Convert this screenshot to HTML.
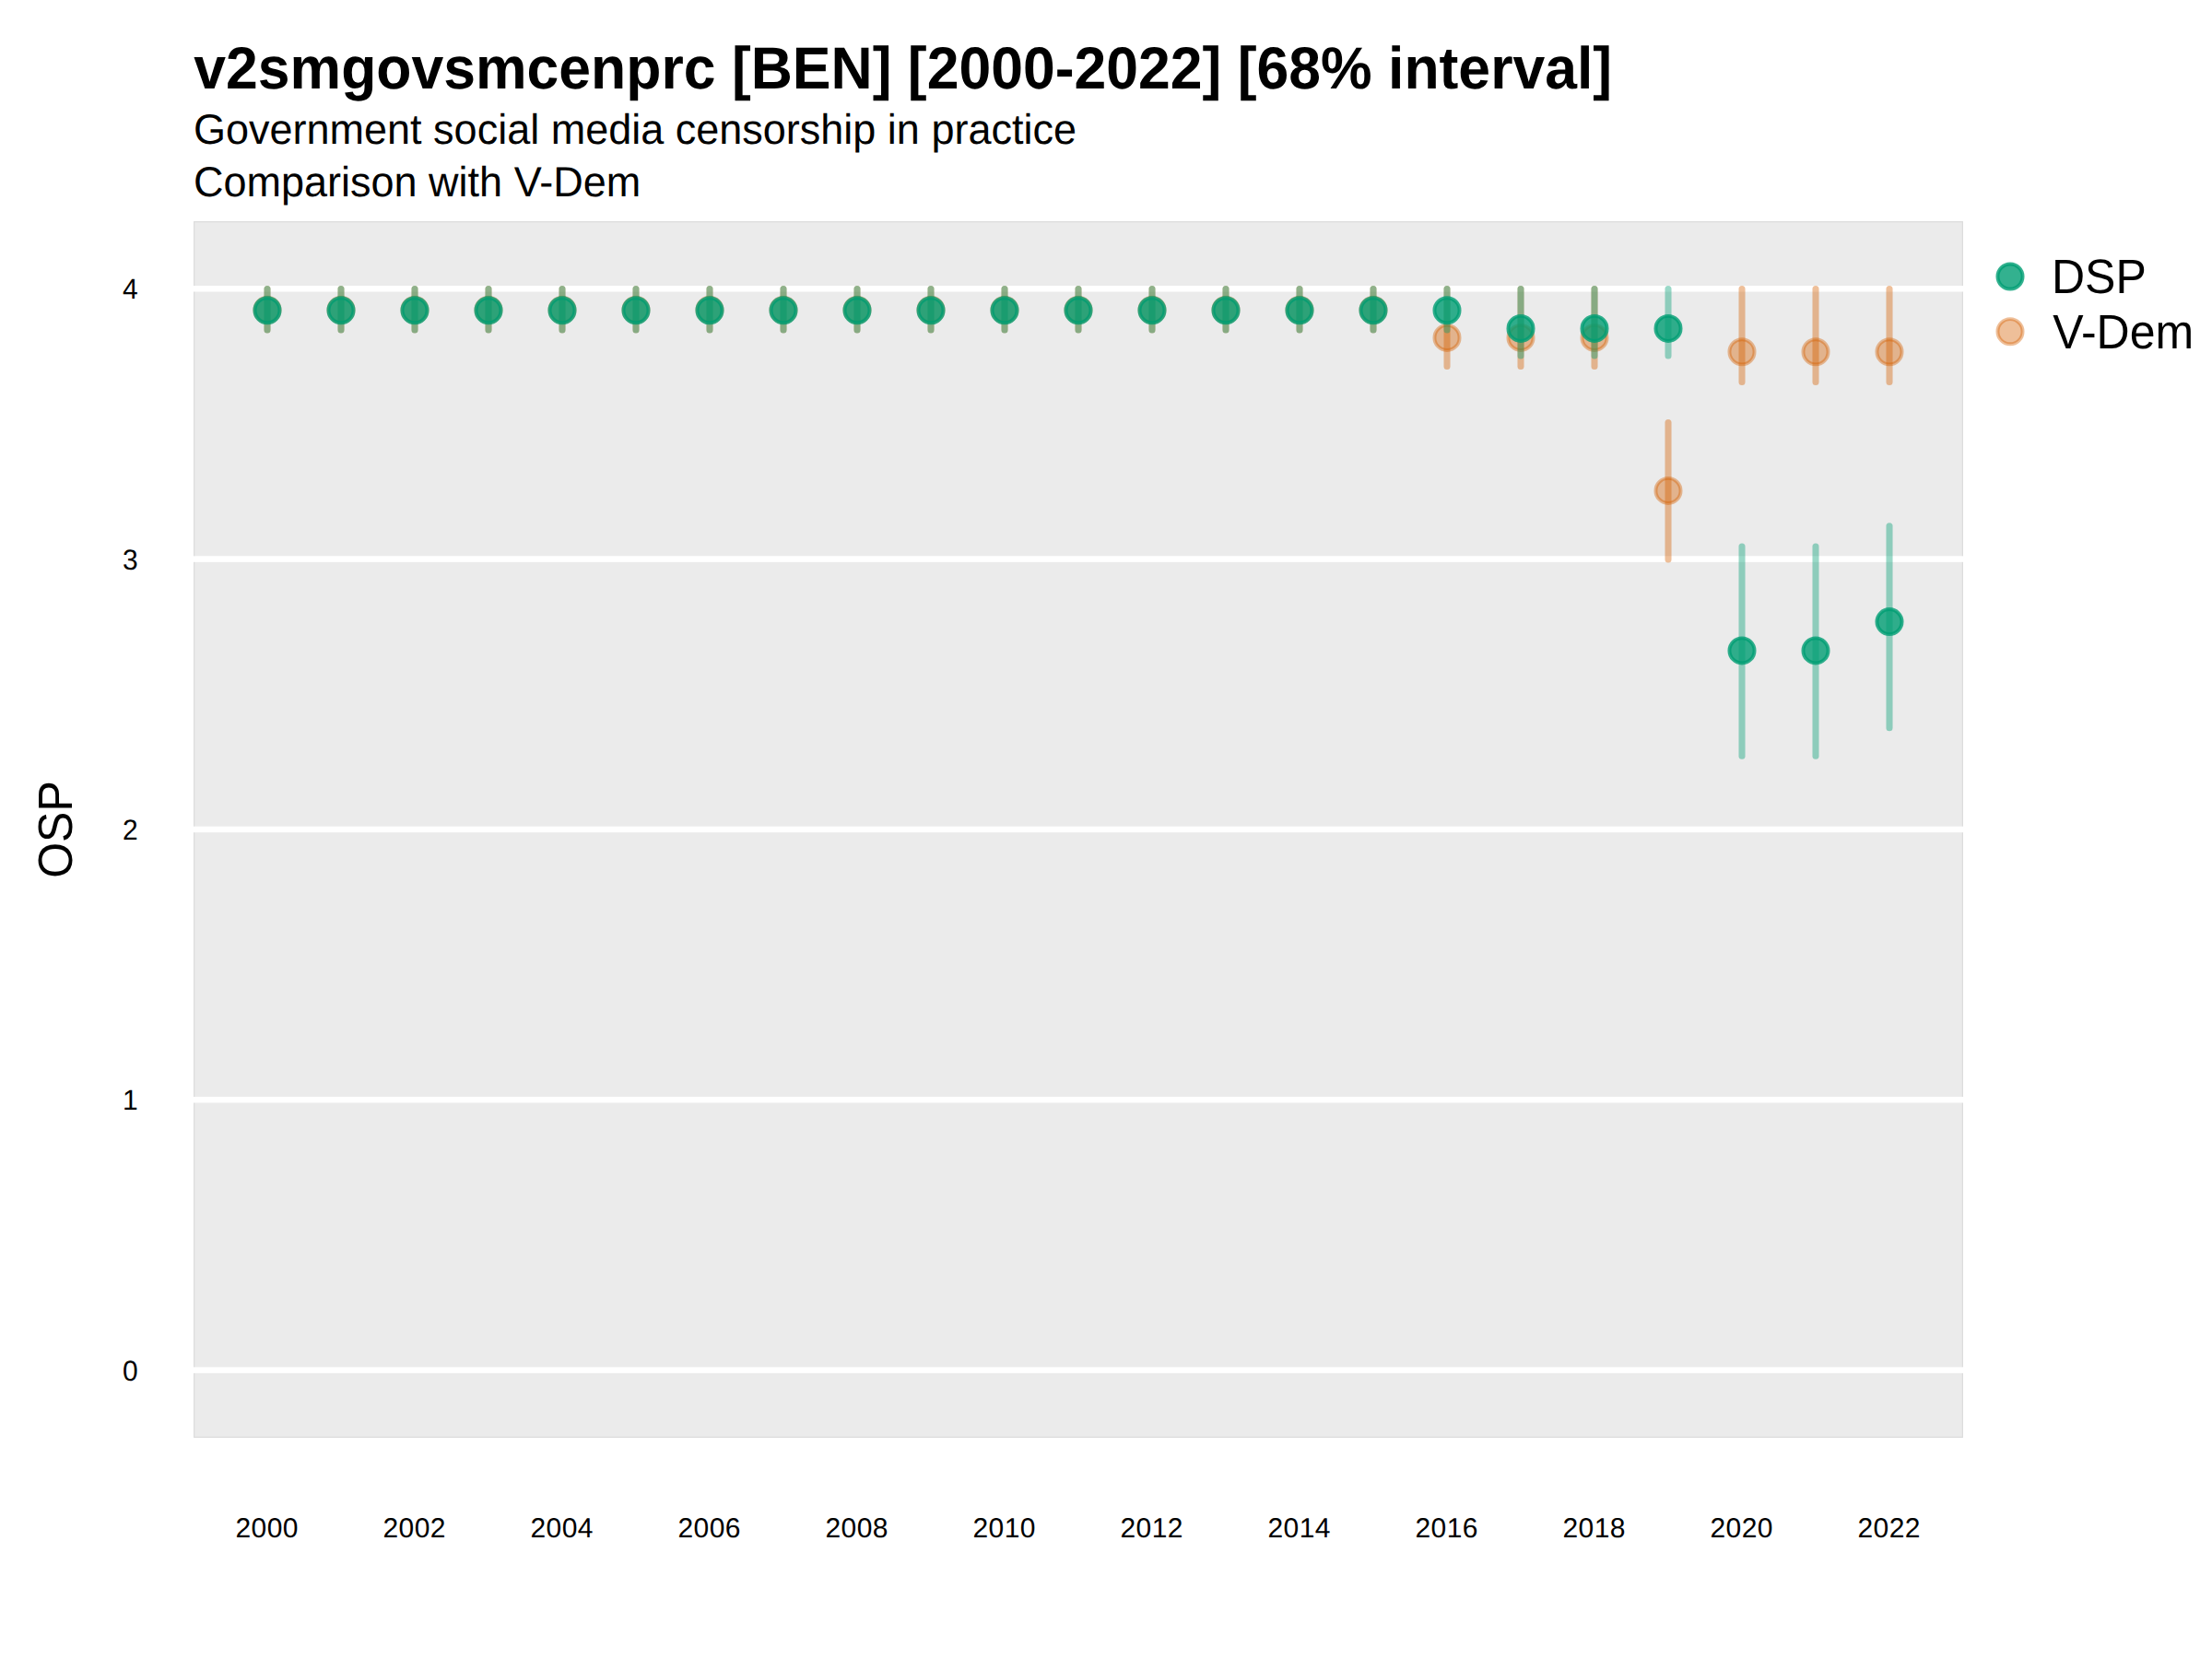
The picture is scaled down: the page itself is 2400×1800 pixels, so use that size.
<!DOCTYPE html>
<html lang="en"><head><meta charset="utf-8"><title>v2smgovsmcenprc [BEN]</title>
<style>
html,body{margin:0;padding:0;background:#fff;}
body{width:2400px;height:1800px;overflow:hidden;}
svg{display:block;}
text{font-family:"Liberation Sans",Arial,Helvetica,sans-serif;fill:#000;text-rendering:geometricPrecision;}
</style></head><body>
<svg width="2400" height="1800" viewBox="0 0 2400 1800">
<rect x="0" y="0" width="2400" height="1800" fill="#ffffff"/>
<rect x="210" y="240" width="1920" height="1320" fill="#EBEBEB"/>
<rect x="210.65" y="240.65" width="1918.7" height="1318.7" fill="none" stroke="#DDDDDD" stroke-width="1.3"/>
<rect x="210" y="1483.35" width="1920" height="6.5" fill="#ffffff"/>
<rect x="210" y="1190.01" width="1920" height="6.5" fill="#ffffff"/>
<rect x="210" y="896.67" width="1920" height="6.5" fill="#ffffff"/>
<rect x="210" y="603.33" width="1920" height="6.5" fill="#ffffff"/>
<rect x="210" y="309.99" width="1920" height="6.5" fill="#ffffff"/>
<g>
<line x1="290" x2="290" y1="313.62" y2="357.88" stroke="#D55E00" stroke-opacity="0.4" stroke-width="7.05" stroke-linecap="round"/>
<line x1="370" x2="370" y1="313.62" y2="357.88" stroke="#D55E00" stroke-opacity="0.4" stroke-width="7.05" stroke-linecap="round"/>
<line x1="450" x2="450" y1="313.62" y2="357.88" stroke="#D55E00" stroke-opacity="0.4" stroke-width="7.05" stroke-linecap="round"/>
<line x1="530" x2="530" y1="313.62" y2="357.88" stroke="#D55E00" stroke-opacity="0.4" stroke-width="7.05" stroke-linecap="round"/>
<line x1="610" x2="610" y1="313.62" y2="357.88" stroke="#D55E00" stroke-opacity="0.4" stroke-width="7.05" stroke-linecap="round"/>
<line x1="690" x2="690" y1="313.62" y2="357.88" stroke="#D55E00" stroke-opacity="0.4" stroke-width="7.05" stroke-linecap="round"/>
<line x1="770" x2="770" y1="313.62" y2="357.88" stroke="#D55E00" stroke-opacity="0.4" stroke-width="7.05" stroke-linecap="round"/>
<line x1="850" x2="850" y1="313.62" y2="357.88" stroke="#D55E00" stroke-opacity="0.4" stroke-width="7.05" stroke-linecap="round"/>
<line x1="930" x2="930" y1="313.62" y2="357.88" stroke="#D55E00" stroke-opacity="0.4" stroke-width="7.05" stroke-linecap="round"/>
<line x1="1010" x2="1010" y1="313.62" y2="357.88" stroke="#D55E00" stroke-opacity="0.4" stroke-width="7.05" stroke-linecap="round"/>
<line x1="1090" x2="1090" y1="313.62" y2="357.88" stroke="#D55E00" stroke-opacity="0.4" stroke-width="7.05" stroke-linecap="round"/>
<line x1="1170" x2="1170" y1="313.62" y2="357.88" stroke="#D55E00" stroke-opacity="0.4" stroke-width="7.05" stroke-linecap="round"/>
<line x1="1250" x2="1250" y1="313.62" y2="357.88" stroke="#D55E00" stroke-opacity="0.4" stroke-width="7.05" stroke-linecap="round"/>
<line x1="1330" x2="1330" y1="313.62" y2="357.88" stroke="#D55E00" stroke-opacity="0.4" stroke-width="7.05" stroke-linecap="round"/>
<line x1="1410" x2="1410" y1="313.62" y2="357.88" stroke="#D55E00" stroke-opacity="0.4" stroke-width="7.05" stroke-linecap="round"/>
<line x1="1490" x2="1490" y1="313.62" y2="357.88" stroke="#D55E00" stroke-opacity="0.4" stroke-width="7.05" stroke-linecap="round"/>
<line x1="1570" x2="1570" y1="313.62" y2="397.38" stroke="#D55E00" stroke-opacity="0.4" stroke-width="7.05" stroke-linecap="round"/>
<line x1="1650" x2="1650" y1="313.62" y2="397.38" stroke="#D55E00" stroke-opacity="0.4" stroke-width="7.05" stroke-linecap="round"/>
<line x1="1730" x2="1730" y1="313.62" y2="397.38" stroke="#D55E00" stroke-opacity="0.4" stroke-width="7.05" stroke-linecap="round"/>
<line x1="1810" x2="1810" y1="458.62" y2="606.98" stroke="#D55E00" stroke-opacity="0.4" stroke-width="7.05" stroke-linecap="round"/>
<line x1="1890" x2="1890" y1="313.62" y2="414.58" stroke="#D55E00" stroke-opacity="0.4" stroke-width="7.05" stroke-linecap="round"/>
<line x1="1970" x2="1970" y1="313.62" y2="414.58" stroke="#D55E00" stroke-opacity="0.4" stroke-width="7.05" stroke-linecap="round"/>
<line x1="2050" x2="2050" y1="313.62" y2="414.58" stroke="#D55E00" stroke-opacity="0.4" stroke-width="7.05" stroke-linecap="round"/>
<circle cx="290" cy="336.20" r="13.55" fill="#D55E00" fill-opacity="0.4" stroke="#D55E00" stroke-opacity="0.4" stroke-width="3.94"/>
<circle cx="370" cy="336.20" r="13.55" fill="#D55E00" fill-opacity="0.4" stroke="#D55E00" stroke-opacity="0.4" stroke-width="3.94"/>
<circle cx="450" cy="336.20" r="13.55" fill="#D55E00" fill-opacity="0.4" stroke="#D55E00" stroke-opacity="0.4" stroke-width="3.94"/>
<circle cx="530" cy="336.20" r="13.55" fill="#D55E00" fill-opacity="0.4" stroke="#D55E00" stroke-opacity="0.4" stroke-width="3.94"/>
<circle cx="610" cy="336.20" r="13.55" fill="#D55E00" fill-opacity="0.4" stroke="#D55E00" stroke-opacity="0.4" stroke-width="3.94"/>
<circle cx="690" cy="336.20" r="13.55" fill="#D55E00" fill-opacity="0.4" stroke="#D55E00" stroke-opacity="0.4" stroke-width="3.94"/>
<circle cx="770" cy="336.20" r="13.55" fill="#D55E00" fill-opacity="0.4" stroke="#D55E00" stroke-opacity="0.4" stroke-width="3.94"/>
<circle cx="850" cy="336.20" r="13.55" fill="#D55E00" fill-opacity="0.4" stroke="#D55E00" stroke-opacity="0.4" stroke-width="3.94"/>
<circle cx="930" cy="336.20" r="13.55" fill="#D55E00" fill-opacity="0.4" stroke="#D55E00" stroke-opacity="0.4" stroke-width="3.94"/>
<circle cx="1010" cy="336.20" r="13.55" fill="#D55E00" fill-opacity="0.4" stroke="#D55E00" stroke-opacity="0.4" stroke-width="3.94"/>
<circle cx="1090" cy="336.20" r="13.55" fill="#D55E00" fill-opacity="0.4" stroke="#D55E00" stroke-opacity="0.4" stroke-width="3.94"/>
<circle cx="1170" cy="336.20" r="13.55" fill="#D55E00" fill-opacity="0.4" stroke="#D55E00" stroke-opacity="0.4" stroke-width="3.94"/>
<circle cx="1250" cy="336.20" r="13.55" fill="#D55E00" fill-opacity="0.4" stroke="#D55E00" stroke-opacity="0.4" stroke-width="3.94"/>
<circle cx="1330" cy="336.20" r="13.55" fill="#D55E00" fill-opacity="0.4" stroke="#D55E00" stroke-opacity="0.4" stroke-width="3.94"/>
<circle cx="1410" cy="336.20" r="13.55" fill="#D55E00" fill-opacity="0.4" stroke="#D55E00" stroke-opacity="0.4" stroke-width="3.94"/>
<circle cx="1490" cy="336.20" r="13.55" fill="#D55E00" fill-opacity="0.4" stroke="#D55E00" stroke-opacity="0.4" stroke-width="3.94"/>
<circle cx="1570" cy="366.40" r="13.55" fill="#D55E00" fill-opacity="0.4" stroke="#D55E00" stroke-opacity="0.4" stroke-width="3.94"/>
<circle cx="1650" cy="366.40" r="13.55" fill="#D55E00" fill-opacity="0.4" stroke="#D55E00" stroke-opacity="0.4" stroke-width="3.94"/>
<circle cx="1730" cy="366.40" r="13.55" fill="#D55E00" fill-opacity="0.4" stroke="#D55E00" stroke-opacity="0.4" stroke-width="3.94"/>
<circle cx="1810" cy="532.40" r="13.55" fill="#D55E00" fill-opacity="0.4" stroke="#D55E00" stroke-opacity="0.4" stroke-width="3.94"/>
<circle cx="1890" cy="381.80" r="13.55" fill="#D55E00" fill-opacity="0.4" stroke="#D55E00" stroke-opacity="0.4" stroke-width="3.94"/>
<circle cx="1970" cy="381.80" r="13.55" fill="#D55E00" fill-opacity="0.4" stroke="#D55E00" stroke-opacity="0.4" stroke-width="3.94"/>
<circle cx="2050" cy="381.80" r="13.55" fill="#D55E00" fill-opacity="0.4" stroke="#D55E00" stroke-opacity="0.4" stroke-width="3.94"/>
<line x1="290" x2="290" y1="313.62" y2="357.88" stroke="#009E73" stroke-opacity="0.4" stroke-width="7.05" stroke-linecap="round"/>
<line x1="370" x2="370" y1="313.62" y2="357.88" stroke="#009E73" stroke-opacity="0.4" stroke-width="7.05" stroke-linecap="round"/>
<line x1="450" x2="450" y1="313.62" y2="357.88" stroke="#009E73" stroke-opacity="0.4" stroke-width="7.05" stroke-linecap="round"/>
<line x1="530" x2="530" y1="313.62" y2="357.88" stroke="#009E73" stroke-opacity="0.4" stroke-width="7.05" stroke-linecap="round"/>
<line x1="610" x2="610" y1="313.62" y2="357.88" stroke="#009E73" stroke-opacity="0.4" stroke-width="7.05" stroke-linecap="round"/>
<line x1="690" x2="690" y1="313.62" y2="357.88" stroke="#009E73" stroke-opacity="0.4" stroke-width="7.05" stroke-linecap="round"/>
<line x1="770" x2="770" y1="313.62" y2="357.88" stroke="#009E73" stroke-opacity="0.4" stroke-width="7.05" stroke-linecap="round"/>
<line x1="850" x2="850" y1="313.62" y2="357.88" stroke="#009E73" stroke-opacity="0.4" stroke-width="7.05" stroke-linecap="round"/>
<line x1="930" x2="930" y1="313.62" y2="357.88" stroke="#009E73" stroke-opacity="0.4" stroke-width="7.05" stroke-linecap="round"/>
<line x1="1010" x2="1010" y1="313.62" y2="357.88" stroke="#009E73" stroke-opacity="0.4" stroke-width="7.05" stroke-linecap="round"/>
<line x1="1090" x2="1090" y1="313.62" y2="357.88" stroke="#009E73" stroke-opacity="0.4" stroke-width="7.05" stroke-linecap="round"/>
<line x1="1170" x2="1170" y1="313.62" y2="357.88" stroke="#009E73" stroke-opacity="0.4" stroke-width="7.05" stroke-linecap="round"/>
<line x1="1250" x2="1250" y1="313.62" y2="357.88" stroke="#009E73" stroke-opacity="0.4" stroke-width="7.05" stroke-linecap="round"/>
<line x1="1330" x2="1330" y1="313.62" y2="357.88" stroke="#009E73" stroke-opacity="0.4" stroke-width="7.05" stroke-linecap="round"/>
<line x1="1410" x2="1410" y1="313.62" y2="357.88" stroke="#009E73" stroke-opacity="0.4" stroke-width="7.05" stroke-linecap="round"/>
<line x1="1490" x2="1490" y1="313.62" y2="357.88" stroke="#009E73" stroke-opacity="0.4" stroke-width="7.05" stroke-linecap="round"/>
<line x1="1570" x2="1570" y1="313.62" y2="357.88" stroke="#009E73" stroke-opacity="0.4" stroke-width="7.05" stroke-linecap="round"/>
<line x1="1650" x2="1650" y1="313.62" y2="385.98" stroke="#009E73" stroke-opacity="0.4" stroke-width="7.05" stroke-linecap="round"/>
<line x1="1730" x2="1730" y1="313.62" y2="385.98" stroke="#009E73" stroke-opacity="0.4" stroke-width="7.05" stroke-linecap="round"/>
<line x1="1810" x2="1810" y1="313.62" y2="385.98" stroke="#009E73" stroke-opacity="0.4" stroke-width="7.05" stroke-linecap="round"/>
<line x1="1890" x2="1890" y1="593.02" y2="820.18" stroke="#009E73" stroke-opacity="0.4" stroke-width="7.05" stroke-linecap="round"/>
<line x1="1970" x2="1970" y1="593.02" y2="820.18" stroke="#009E73" stroke-opacity="0.4" stroke-width="7.05" stroke-linecap="round"/>
<line x1="2050" x2="2050" y1="570.73" y2="789.77" stroke="#009E73" stroke-opacity="0.4" stroke-width="7.05" stroke-linecap="round"/>
<circle cx="290" cy="336.80" r="13.55" fill="#009E73" fill-opacity="0.8" stroke="#009E73" stroke-opacity="0.8" stroke-width="3.94"/>
<circle cx="370" cy="336.80" r="13.55" fill="#009E73" fill-opacity="0.8" stroke="#009E73" stroke-opacity="0.8" stroke-width="3.94"/>
<circle cx="450" cy="336.80" r="13.55" fill="#009E73" fill-opacity="0.8" stroke="#009E73" stroke-opacity="0.8" stroke-width="3.94"/>
<circle cx="530" cy="336.80" r="13.55" fill="#009E73" fill-opacity="0.8" stroke="#009E73" stroke-opacity="0.8" stroke-width="3.94"/>
<circle cx="610" cy="336.80" r="13.55" fill="#009E73" fill-opacity="0.8" stroke="#009E73" stroke-opacity="0.8" stroke-width="3.94"/>
<circle cx="690" cy="336.80" r="13.55" fill="#009E73" fill-opacity="0.8" stroke="#009E73" stroke-opacity="0.8" stroke-width="3.94"/>
<circle cx="770" cy="336.80" r="13.55" fill="#009E73" fill-opacity="0.8" stroke="#009E73" stroke-opacity="0.8" stroke-width="3.94"/>
<circle cx="850" cy="336.80" r="13.55" fill="#009E73" fill-opacity="0.8" stroke="#009E73" stroke-opacity="0.8" stroke-width="3.94"/>
<circle cx="930" cy="336.80" r="13.55" fill="#009E73" fill-opacity="0.8" stroke="#009E73" stroke-opacity="0.8" stroke-width="3.94"/>
<circle cx="1010" cy="336.80" r="13.55" fill="#009E73" fill-opacity="0.8" stroke="#009E73" stroke-opacity="0.8" stroke-width="3.94"/>
<circle cx="1090" cy="336.80" r="13.55" fill="#009E73" fill-opacity="0.8" stroke="#009E73" stroke-opacity="0.8" stroke-width="3.94"/>
<circle cx="1170" cy="336.80" r="13.55" fill="#009E73" fill-opacity="0.8" stroke="#009E73" stroke-opacity="0.8" stroke-width="3.94"/>
<circle cx="1250" cy="336.80" r="13.55" fill="#009E73" fill-opacity="0.8" stroke="#009E73" stroke-opacity="0.8" stroke-width="3.94"/>
<circle cx="1330" cy="336.80" r="13.55" fill="#009E73" fill-opacity="0.8" stroke="#009E73" stroke-opacity="0.8" stroke-width="3.94"/>
<circle cx="1410" cy="336.80" r="13.55" fill="#009E73" fill-opacity="0.8" stroke="#009E73" stroke-opacity="0.8" stroke-width="3.94"/>
<circle cx="1490" cy="336.80" r="13.55" fill="#009E73" fill-opacity="0.8" stroke="#009E73" stroke-opacity="0.8" stroke-width="3.94"/>
<circle cx="1570" cy="336.80" r="13.55" fill="#009E73" fill-opacity="0.8" stroke="#009E73" stroke-opacity="0.8" stroke-width="3.94"/>
<circle cx="1650" cy="356.40" r="13.55" fill="#009E73" fill-opacity="0.8" stroke="#009E73" stroke-opacity="0.8" stroke-width="3.94"/>
<circle cx="1730" cy="356.40" r="13.55" fill="#009E73" fill-opacity="0.8" stroke="#009E73" stroke-opacity="0.8" stroke-width="3.94"/>
<circle cx="1810" cy="356.40" r="13.55" fill="#009E73" fill-opacity="0.8" stroke="#009E73" stroke-opacity="0.8" stroke-width="3.94"/>
<circle cx="1890" cy="705.90" r="13.55" fill="#009E73" fill-opacity="0.8" stroke="#009E73" stroke-opacity="0.8" stroke-width="3.94"/>
<circle cx="1970" cy="705.90" r="13.55" fill="#009E73" fill-opacity="0.8" stroke="#009E73" stroke-opacity="0.8" stroke-width="3.94"/>
<circle cx="2050" cy="674.60" r="13.55" fill="#009E73" fill-opacity="0.8" stroke="#009E73" stroke-opacity="0.8" stroke-width="3.94"/>
</g>
<circle cx="2181" cy="300.00" r="13.55" fill="#009E73" fill-opacity="0.8" stroke="#009E73" stroke-opacity="0.8" stroke-width="3.94"/>
<circle cx="2181" cy="359.70" r="13.55" fill="#D55E00" fill-opacity="0.4" stroke="#D55E00" stroke-opacity="0.4" stroke-width="3.94"/>
<text transform="translate(2226,317.9) scale(1,1.05)" font-size="50">DSP</text>
<text transform="translate(2227.3,378) scale(1,1.05)" font-size="50">V-Dem</text>
<text transform="translate(210.3,96) scale(1,1.03)" font-size="62.5" font-weight="bold">v2smgovsmcenprc [BEN] [2000-2022] [68% interval]</text>
<text transform="translate(210,155.6) scale(1,1.02)" font-size="45">Government social media censorship in practice</text>
<text transform="translate(210,212.7) scale(1,1.02)" font-size="45">Comparison with V-Dem</text>
<text transform="translate(149.8,1497.6) scale(1,1.035)" font-size="30" text-anchor="end">0</text>
<text transform="translate(149.8,1204.26) scale(1,1.035)" font-size="30" text-anchor="end">1</text>
<text transform="translate(149.8,910.92) scale(1,1.035)" font-size="30" text-anchor="end">2</text>
<text transform="translate(149.8,617.58) scale(1,1.035)" font-size="30" text-anchor="end">3</text>
<text transform="translate(149.8,324.24) scale(1,1.035)" font-size="30" text-anchor="end">4</text>
<text transform="translate(255.5,1667.9)" font-size="30" textLength="68" lengthAdjust="spacing">2000</text>
<text transform="translate(415.5,1667.9)" font-size="30" textLength="68" lengthAdjust="spacing">2002</text>
<text transform="translate(575.5,1667.9)" font-size="30" textLength="68" lengthAdjust="spacing">2004</text>
<text transform="translate(735.5,1667.9)" font-size="30" textLength="68" lengthAdjust="spacing">2006</text>
<text transform="translate(895.5,1667.9)" font-size="30" textLength="68" lengthAdjust="spacing">2008</text>
<text transform="translate(1055.5,1667.9)" font-size="30" textLength="68" lengthAdjust="spacing">2010</text>
<text transform="translate(1215.5,1667.9)" font-size="30" textLength="68" lengthAdjust="spacing">2012</text>
<text transform="translate(1375.5,1667.9)" font-size="30" textLength="68" lengthAdjust="spacing">2014</text>
<text transform="translate(1535.5,1667.9)" font-size="30" textLength="68" lengthAdjust="spacing">2016</text>
<text transform="translate(1695.5,1667.9)" font-size="30" textLength="68" lengthAdjust="spacing">2018</text>
<text transform="translate(1855.5,1667.9)" font-size="30" textLength="68" lengthAdjust="spacing">2020</text>
<text transform="translate(2015.5,1667.9)" font-size="30" textLength="68" lengthAdjust="spacing">2022</text>
<text transform="translate(77.9,900) rotate(-90) scale(1,1.045)" font-size="50" text-anchor="middle">OSP</text>
</svg></body></html>
